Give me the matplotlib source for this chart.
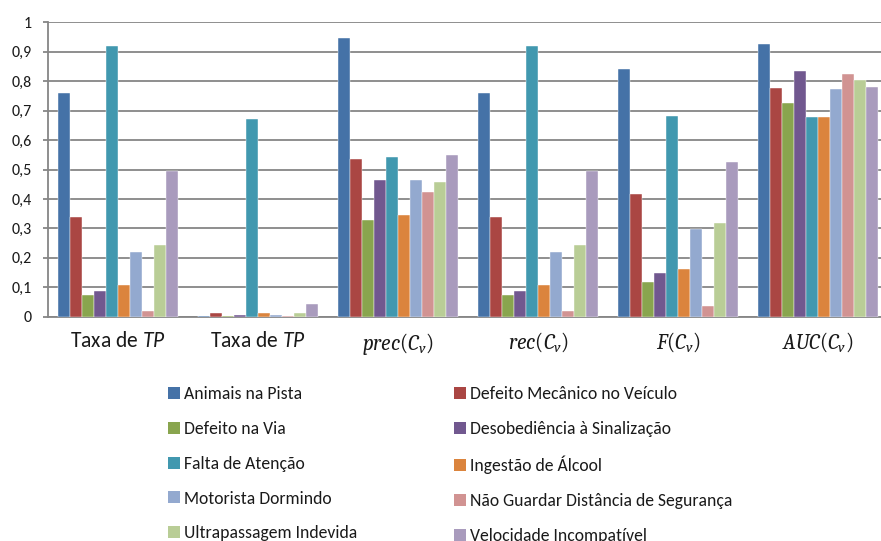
import numpy as np
import matplotlib
matplotlib.use('Agg')
import matplotlib.pyplot as plt
from matplotlib.patches import Patch

plt.rcParams['font.family'] = ['Carlito', 'DejaVu Sans']
plt.rcParams['mathtext.fontset'] = 'custom'
plt.rcParams['mathtext.rm'] = 'Caladea'
plt.rcParams['mathtext.it'] = 'Caladea:italic'
plt.rcParams['mathtext.sf'] = 'Carlito:italic'

groups = [r'Taxa de $\mathsf{TP}$', r'Taxa de $\mathsf{TP}$',
          r'$prec(C_v)$', r'$rec(C_v)$', r'$F(C_v)$', r'$AUC(C_v)$']

causes = ['Animais na Pista', 'Defeito Mecânico no Veículo', 'Defeito na Via',
          'Desobediência à Sinalização', 'Falta de Atenção', 'Ingestão de Álcool',
          'Motorista Dormindo', 'Não Guardar Distância de Segurança',
          'Ultrapassagem Indevida', 'Velocidade Incompatível']

colors = ['#4572A7', '#AA4643', '#89A54E', '#71588F', '#4198AF',
          '#DB843D', '#93A9CF', '#D19392', '#B9CD96', '#A99BBD']

# one list per cause, values for the six groups
animais = [0.76, 0.003, 0.946, 0.76, 0.841, 0.926]
mecanico = [0.339, 0.013, 0.537, 0.339, 0.417, 0.777]
via = [0.074, 0.003, 0.327, 0.074, 0.119, 0.725]
sinalizacao = [0.087, 0.006, 0.463, 0.087, 0.148, 0.835]
atencao = [0.919, 0.670, 0.543, 0.919, 0.683, 0.677]
alcool = [0.107, 0.013, 0.345, 0.107, 0.161, 0.677]
dormindo = [0.220, 0.006, 0.463, 0.220, 0.299, 0.773]
distancia = [0.018, 0.002, 0.424, 0.018, 0.035, 0.825]
ultrapassagem = [0.242, 0.013, 0.456, 0.242, 0.317, 0.805]
velocidade = [0.495, 0.044, 0.550, 0.495, 0.524, 0.780]

series = [animais, mecanico, via, sinalizacao, atencao, alcool,
          dormindo, distancia, ultrapassagem, velocidade]

fig = plt.figure(figsize=(8.81, 5.41), dpi=100)
ax = fig.add_axes([48 / 881, 224.3 / 541, 840 / 881, 294.4 / 541])

x = np.arange(len(groups))
w = 0.0862
for j, vals in enumerate(series):
    ax.bar(x + (j - 4.5) * w, vals, w, color=colors[j], zorder=3,
           edgecolor='white', linewidth=0.3)

ax.set_xlim(-0.5, 5.5)
ax.set_ylim(0, 1)
yt = np.round(np.arange(0, 1.01, 0.1), 1)
ax.set_yticks(yt)
ax.set_yticklabels(['0' if v == 0 else ('1' if v == 1 else str(v).replace('.', ','))
                    for v in yt], fontsize=11.5, color='#1a1a1a')
ax.yaxis.grid(True, color='#868686', linewidth=1.3, zorder=0)
ax.tick_params(axis='y', length=3.6, width=1.3, color='#868686', pad=8)
ax.set_xticks(x)
ax.set_xticklabels(groups, fontsize=15.5, color='#1a1a1a')
ax.tick_params(axis='x', length=0, pad=10)
for s in ['top', 'right']:
    ax.spines[s].set_visible(False)
for s in ['left', 'bottom']:
    ax.spines[s].set_color('#868686')
    ax.spines[s].set_linewidth(1.3)

handles = [Patch(facecolor=c) for c in colors]
leg_kw = dict(loc='upper left', frameon=False, fontsize=12.7, borderpad=0,
              borderaxespad=0, handlelength=0.68, handleheight=0.68,
              handletextpad=0.2, labelspacing=1.07, labelcolor='#1a1a1a')
for col, xpos in [(0, 168), (1, 454)]:
    idx = list(range(col, 10, 2))
    fig.legend([handles[i] for i in idx], [causes[i] for i in idx],
               bbox_to_anchor=(xpos / 881, 1 - 386 / 541), **leg_kw)

fig.savefig('out.png', dpi=100)
